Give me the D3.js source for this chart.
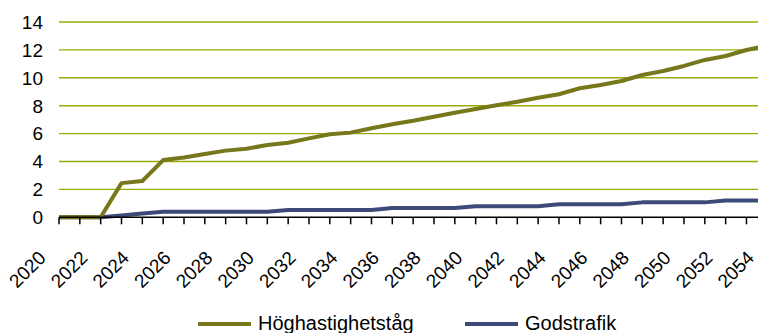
<!DOCTYPE html>
<html>
<head>
<meta charset="utf-8">
<script src="https://cdn.jsdelivr.net/npm/d3@7"></script>
<style>
  html, body { margin: 0; padding: 0; background: #fff; }
  svg { display: block; font-family: "Liberation Sans", Arial, sans-serif; }
</style>
</head>
<body>
<svg id="chart" width="758" height="333"></svg>
<script>
// Years on the category axis (labels every second year)
const years = d3.range(2020, 2055);
const yTicks = [0, 2, 4, 6, 8, 10, 12, 14];

// Series values per year
const hoghastighetstag = [0, 0, 0, 2.45, 2.6, 4.1, 4.28, 4.54, 4.78, 4.92,
  5.18, 5.35, 5.66, 5.95, 6.07, 6.38, 6.67, 6.92, 7.21, 7.5,
  7.76, 8.03, 8.29, 8.57, 8.82, 9.25, 9.48, 9.77, 10.2, 10.49,
  10.85, 11.28, 11.56, 11.99, 12.3];
const godstrafik = [0, 0, 0, 0.13, 0.27, 0.4, 0.4, 0.4, 0.4, 0.4,
  0.4, 0.53, 0.53, 0.53, 0.53, 0.53, 0.67, 0.67, 0.67, 0.67,
  0.8, 0.8, 0.8, 0.8, 0.93, 0.93, 0.93, 0.93, 1.07, 1.07,
  1.07, 1.07, 1.2, 1.2, 1.2];

const seriesNames = ["Höghastighetståg", "Godstrafik"];
const seriesColors = ["#77771b", "#3c4a78"];
const gridColor = "#9aaa00";

const svg = d3.select("#chart");
const x = d3.scaleLinear().domain([2020, 2054]).range([59, 767.3]);
const y = d3.scaleLinear().domain([0, 14]).range([217.3, 22]);

// Horizontal gridlines
svg.append("g")
  .selectAll("line")
  .data(yTicks.filter(d => d > 0))
  .join("line")
  .attr("x1", x(2020)).attr("x2", 800)
  .attr("y1", d => y(d)).attr("y2", d => y(d))
  .attr("stroke", gridColor)
  .attr("stroke-width", 1.4);

// Y tick labels
svg.append("g")
  .selectAll("text")
  .data(yTicks)
  .join("text")
  .attr("x", 43)
  .attr("y", d => y(d))
  .attr("dy", "0.36em")
  .attr("text-anchor", "end")
  .attr("font-size", 19)
  .attr("fill", "#000")
  .text(d => d);

// Series lines
const line = d3.line()
  .x((d, i) => x(years[i]))
  .y(d => y(d));

[godstrafik, hoghastighetstag].forEach((vals, k) => {
  svg.append("path")
    .datum(vals)
    .attr("d", line)
    .attr("fill", "none")
    .attr("stroke", k === 0 ? seriesColors[1] : seriesColors[0])
    .attr("stroke-width", 4)
    .attr("stroke-linejoin", "round");
});

// X axis with a tick for every year
const xAxis = svg.append("g").attr("transform", `translate(0,${y(0)})`);
xAxis.append("line")
  .attr("x1", x(2020)).attr("x2", 800)
  .attr("stroke", "#000").attr("stroke-width", 1.5);
xAxis.selectAll("line.tick")
  .data(years)
  .join("line")
  .attr("class", "tick")
  .attr("x1", d => x(d)).attr("x2", d => x(d))
  .attr("y1", 0).attr("y2", 7)
  .attr("stroke", "#000").attr("stroke-width", 1.5);

// Rotated year labels
svg.append("g")
  .selectAll("text")
  .data(years.filter(d => (d - 2020) % 2 === 0))
  .join("text")
  .attr("transform", d => `translate(${x(d) - 12},259) rotate(-45)`)
  .attr("text-anchor", "end")
  .attr("font-size", 19)
  .attr("fill", "#000")
  .text(d => d);

// Legend
const legendItems = [
  { name: seriesNames[0], color: seriesColors[0], x0: 198 },
  { name: seriesNames[1], color: seriesColors[1], x0: 465 }
];
const legend = svg.append("g");
legendItems.forEach(it => {
  legend.append("line")
    .attr("x1", it.x0).attr("x2", it.x0 + 53)
    .attr("y1", 324).attr("y2", 324)
    .attr("stroke", it.color).attr("stroke-width", 4);
  legend.append("text")
    .attr("x", it.x0 + 60)
    .attr("y", 330)
    .attr("font-size", 20)
    .attr("fill", "#000")
    .text(it.name);
});
</script>
</body>
</html>
